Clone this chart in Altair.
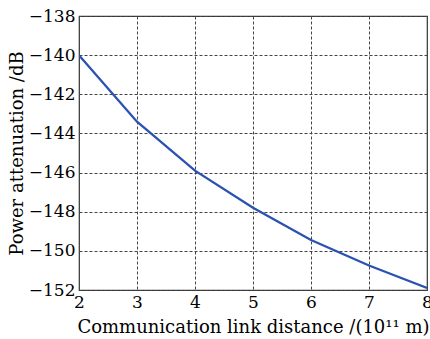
import altair as alt
import pandas as pd

distance = [2, 3, 4, 5, 6, 7, 8]
attenuation = [-140.0, -143.4, -145.9, -147.8, -149.45, -150.75, -151.9]

df = pd.DataFrame({"d": distance, "p": attenuation})

FONT = "DejaVu Serif"

chart = alt.Chart(df).mark_line(color="#2a52b0", strokeWidth=2.3, clip=True).encode(
    x=alt.X("d:Q", scale=alt.Scale(domain=[2, 8], nice=False, zero=False),
            axis=alt.Axis(title="Communication link distance /(10¹¹ m)", values=[2, 3, 4, 5, 6, 7, 8],
                          format="d", labelPadding=4, titleY=42, titleBaseline="alphabetic")),
    y=alt.Y("p:Q", scale=alt.Scale(domain=[-152, -138], nice=False, zero=False),
            axis=alt.Axis(title="Power attenuation /dB", values=[-152, -150, -148, -146, -144, -142, -140, -138],
                          format="d", labelPadding=4, titleX=-62, titleY=137, titleBaseline="middle",
                          titleAlign="center", titleAngle=270)),
).properties(
    width=348, height=274,
    autosize=alt.AutoSizeParams(type="none"),
    padding={"left": 79, "top": 16, "right": 3, "bottom": 49},
).configure_view(
    stroke="#333333", strokeWidth=1.2
).configure_axis(
    labelFont=FONT, titleFont=FONT, labelFontSize=17, titleFontSize=18,
    labelColor="black", titleColor="black", titleFontWeight="normal",
    grid=True, gridColor="#444444", gridDash=[3, 2], gridWidth=1, gridOpacity=1,
    ticks=False, domain=False, labelFlush=False, labelOverlap=False,
)

chart.save("out.html", embed_options={"renderer": "svg", "actions": False})
